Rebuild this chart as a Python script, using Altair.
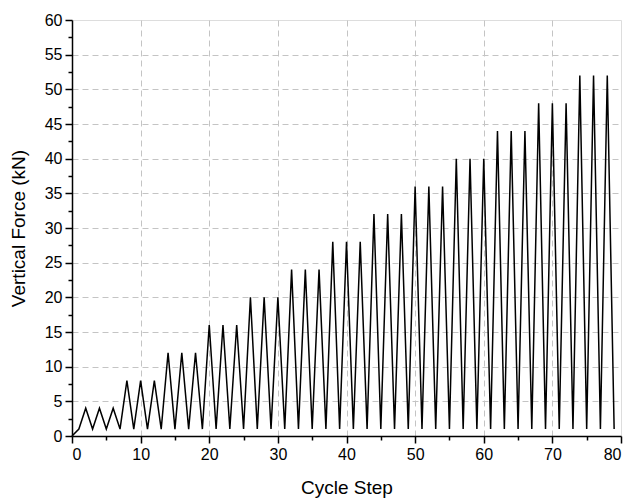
import altair as alt
import pandas as pd

cycle_step = [0, 1, 2, 3, 4, 5, 6, 7, 8, 9, 10, 11, 12, 13, 14, 15, 16, 17, 18, 19,
              20, 21, 22, 23, 24, 25, 26, 27, 28, 29, 30, 31, 32, 33, 34, 35, 36, 37, 38, 39,
              40, 41, 42, 43, 44, 45, 46, 47, 48, 49, 50, 51, 52, 53, 54, 55, 56, 57, 58, 59,
              60, 61, 62, 63, 64, 65, 66, 67, 68, 69, 70, 71, 72, 73, 74, 75, 76, 77, 78, 79]
force_kn = [0, 1, 4, 1, 4, 1, 4, 1, 8, 1, 8, 1, 8, 1, 12, 1, 12, 1, 12, 1,
            16, 1, 16, 1, 16, 1, 20, 1, 20, 1, 20, 1, 24, 1, 24, 1, 24, 1, 28, 1,
            28, 1, 28, 1, 32, 1, 32, 1, 32, 1, 36, 1, 36, 1, 36, 1, 40, 1, 40, 1,
            40, 1, 44, 1, 44, 1, 44, 1, 48, 1, 48, 1, 48, 1, 52, 1, 52, 1, 52, 1]

x_major = [0, 10, 20, 30, 40, 50, 60, 70, 80]
x_minor = [5, 15, 25, 35, 45, 55, 65, 75]
x_grid = [10, 20, 30, 40, 50, 60, 70]
y_major = [0, 5, 10, 15, 20, 25, 30, 35, 40, 45, 50, 55, 60]
y_minor = [2.5, 7.5, 12.5, 17.5, 22.5, 27.5, 32.5, 37.5, 42.5, 47.5, 52.5, 57.5]
y_grid = [5, 10, 15, 20, 25, 30, 35, 40, 45, 50, 55]

df = pd.DataFrame({"step": cycle_step, "force": force_kn})

FONT = "Liberation Sans"
GRID = "#c4c4c4"
xscale = alt.Scale(domain=[0, 80], nice=False, zero=False)
yscale = alt.Scale(domain=[0, 60], nice=False, zero=False)

grid = alt.Chart(df).mark_point(opacity=0).encode(
    x=alt.X("step:Q", scale=xscale,
            axis=alt.Axis(values=x_grid, orient="bottom", labels=False, title=None,
                          grid=True, gridDash=[6, 4], gridColor=GRID, gridWidth=1,
                          domain=False, ticks=False)),
    y=alt.Y("force:Q", scale=yscale,
            axis=alt.Axis(values=y_grid, orient="left", labels=False, title=None,
                          grid=True, gridDash=[6, 4], gridColor=GRID, gridWidth=1,
                          domain=False, ticks=False)),
)

main = alt.Chart(df).mark_line(color="black", strokeWidth=1.5).encode(
    x=alt.X("step:Q", scale=xscale,
            axis=alt.Axis(values=x_major, orient="bottom", title="Cycle Step", grid=False,
                          tickSize=7, tickColor="black", tickWidth=1.5,
                          domainColor="black", domainWidth=1.5,
                          labelFont=FONT, labelFontSize=16, labelColor="black",
                          labelPadding=3, titleFont=FONT, titleFontSize=19,
                          titleFontWeight="normal", titleColor="black",
                          titleY=57, titleBaseline="alphabetic")),
    y=alt.Y("force:Q", scale=yscale,
            axis=alt.Axis(values=y_major, orient="left", title="Vertical Force (kN)", grid=False,
                          tickSize=7, tickColor="black", tickWidth=1.5,
                          domainColor="black", domainWidth=1.5,
                          labelFont=FONT, labelFontSize=16, labelColor="black",
                          labelPadding=3, titleFont=FONT, titleFontSize=19,
                          titleFontWeight="normal", titleColor="black",
                          titleX=-54, titleBaseline="middle")),
)

minor = alt.Chart(df).mark_point(opacity=0).encode(
    x=alt.X("step:Q", scale=xscale,
            axis=alt.Axis(values=x_minor, orient="bottom", labels=False, title=None,
                          grid=False, domain=False, tickSize=4, tickColor="black",
                          tickWidth=1.5)),
    y=alt.Y("force:Q", scale=yscale,
            axis=alt.Axis(values=y_minor, orient="left", labels=False, title=None,
                          grid=False, domain=False, tickSize=4, tickColor="black",
                          tickWidth=1.5)),
)

chart = alt.layer(grid, main, minor).resolve_axis(x="independent", y="independent").properties(
    width=549, height=416,
    autosize=alt.AutoSizeParams(type="none"),
    padding={"left": 64, "top": 12, "right": 3, "bottom": 64},
).configure_view(stroke=None).configure(background="white")

chart.save("out.html", embed_options={"renderer": "svg", "actions": False})
